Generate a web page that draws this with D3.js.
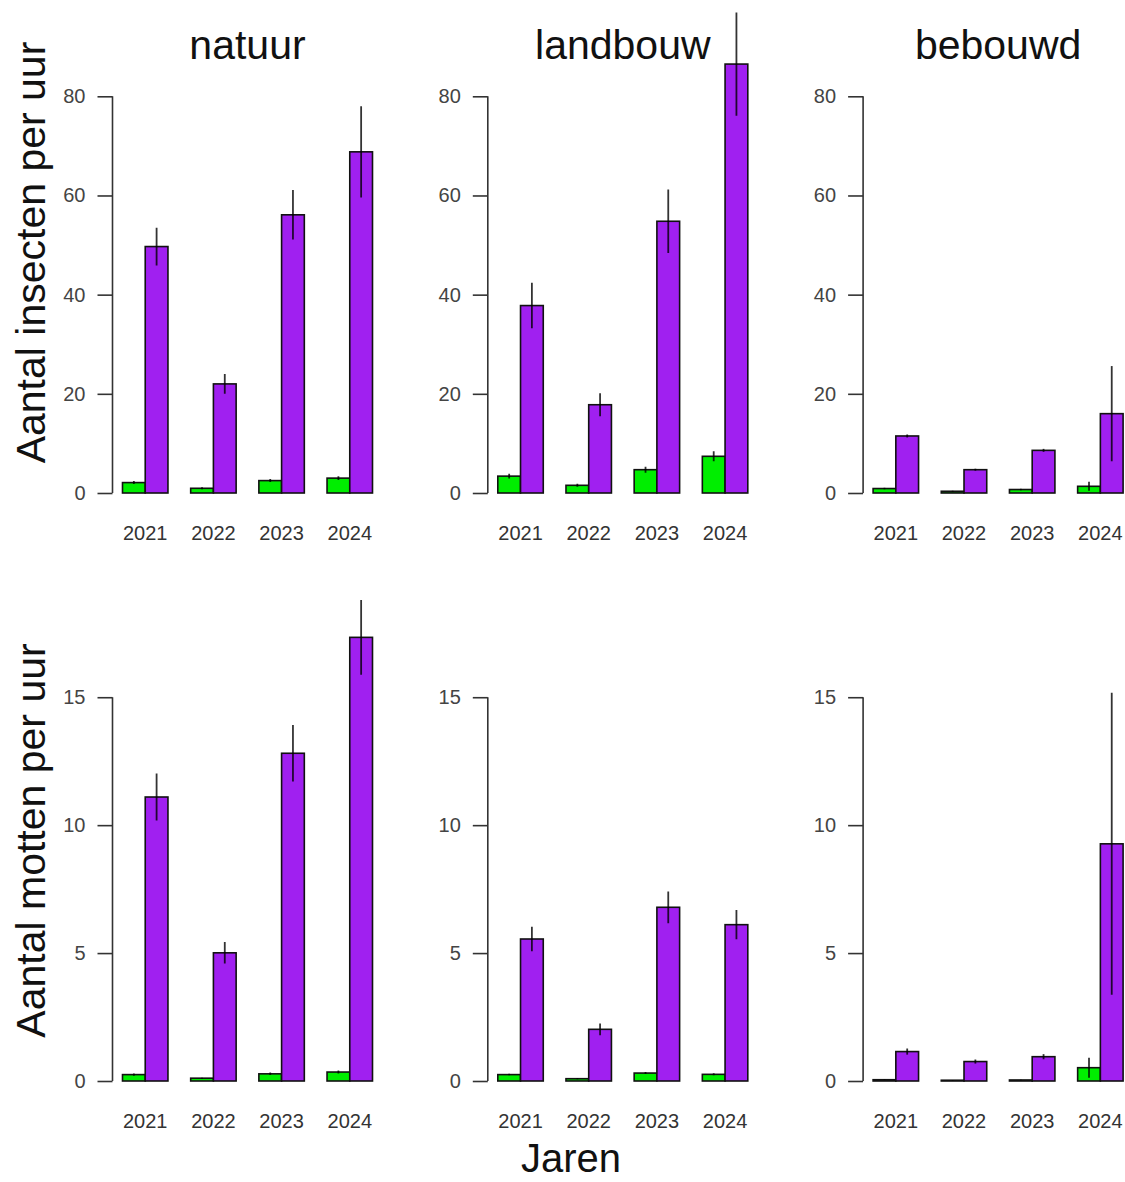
<!DOCTYPE html>
<html>
<head>
<meta charset="utf-8">
<script src="https://cdn.jsdelivr.net/npm/d3@7"></script>
<style>
  html, body { margin: 0; padding: 0; background: #fff; }
  svg { display: block; font-family: "Liberation Sans", Arial, sans-serif; }
</style>
</head>
<body>
<svg id="chart" width="1125" height="1182"></svg>
<script>
// Years on the x axis, habitat type per column
const years = ["2021", "2022", "2023", "2024"];
const habitats = ["natuur", "landbouw", "bebouwd"];

// Insects per hour: means and standard errors, one row per habitat
const insectenGroen   = [[2.1, 0.95, 2.5, 3.0], [3.4, 1.55, 4.7, 7.4], [0.9, 0.35, 0.7, 1.35]];
const insectenGroenSe = [[0.3, 0.2, 0.3, 0.4], [0.5, 0.3, 0.6, 1.0], [0.15, 0.1, 0.15, 0.9]];
const insectenPaars   = [[49.7, 22.0, 56.1, 68.8], [37.8, 17.8, 54.8, 86.5], [11.5, 4.7, 8.6, 16.0]];
const insectenPaarsSe = [[3.8, 2.0, 5.0, 9.2], [4.6, 2.3, 6.4, 10.4], [0.3, 0.2, 0.3, 9.6]];

// Moths per hour: means and standard errors, one row per habitat
const mottenGroen   = [[0.25, 0.11, 0.28, 0.35], [0.25, 0.09, 0.31, 0.26], [0.05, 0.03, 0.04, 0.52]];
const mottenGroenSe = [[0.04, 0.02, 0.05, 0.06], [0.03, 0.02, 0.04, 0.04], [0.01, 0.01, 0.01, 0.39]];
const mottenPaars   = [[11.1, 5.01, 12.81, 17.34], [5.55, 2.02, 6.79, 6.11], [1.15, 0.76, 0.95, 9.27]];
const mottenPaarsSe = [[0.92, 0.42, 1.1, 1.46], [0.48, 0.23, 0.62, 0.57], [0.12, 0.08, 0.1, 5.9]];

// Axis settings per row
const rowTicks = [[0, 20, 40, 60, 80], [0, 5, 10, 15]];
const rowMax = [97, 18.8];
const rowLabels = ["Aantal insecten per uur", "Aantal motten per uur"];
const xLabel = "Jaren";

const seriesKeys = ["groen", "paars"];
const seriesColors = { groen: "#00EE00", paars: "#A020F0" };

const rows = [
  { groen: insectenGroen, groenSe: insectenGroenSe, paars: insectenPaars, paarsSe: insectenPaarsSe },
  { groen: mottenGroen, groenSe: mottenGroenSe, paars: mottenPaars, paarsSe: mottenPaarsSe }
];

const svg = d3.select("#chart");

const colStep = 375.3;
const plotLeft0 = 112.5;
const plotWidth = 270;
const rowBottom = [493, 1081];
const rowTop = [12, 600];

rows.forEach((rowData, r) => {
  const y = d3.scaleLinear().domain([0, rowMax[r]]).range([rowBottom[r], rowTop[r]]);

  habitats.forEach((hab, c) => {
    const left = plotLeft0 + c * colStep;
    const g = svg.append("g");

    const x = d3.scaleBand().domain(years)
      .range([left, left + plotWidth])
      .paddingInner(1 / 3).paddingOuter(0.1467).align(0.5);
    const xs = d3.scaleBand().domain(seriesKeys).range([0, x.bandwidth()]);

    const clipId = `clip-${r}-${c}`;
    svg.append("clipPath").attr("id", clipId)
      .append("rect")
      .attr("x", left - 2).attr("y", rowTop[r])
      .attr("width", plotWidth + 4).attr("height", rowBottom[r] - rowTop[r] + 2);

    const records = [];
    years.forEach((yr, i) => {
      seriesKeys.forEach(k => {
        records.push({ year: yr, key: k, value: rowData[k][c][i], se: rowData[k + "Se"][c][i] });
      });
    });

    // bars
    g.selectAll("rect.bar").data(records).join("rect")
      .attr("class", "bar")
      .attr("x", d => x(d.year) + xs(d.key))
      .attr("width", xs.bandwidth())
      .attr("y", d => y(d.value))
      .attr("height", d => y(0) - y(d.value))
      .attr("fill", d => seriesColors[d.key])
      .attr("stroke", "#111")
      .attr("stroke-width", 1.6);

    // error bars
    g.append("g").attr("clip-path", `url(#${clipId})`)
      .selectAll("line").data(records).join("line")
      .attr("x1", d => x(d.year) + xs(d.key) + xs.bandwidth() / 2)
      .attr("x2", d => x(d.year) + xs(d.key) + xs.bandwidth() / 2)
      .attr("y1", d => y(Math.max(0, d.value - d.se)))
      .attr("y2", d => y(d.value + d.se))
      .attr("stroke", "#000")
      .attr("stroke-opacity", 0.8)
      .attr("stroke-width", 1.8);

    // y axis
    const ticks = rowTicks[r];
    const axis = d3.axisLeft(y).tickValues(ticks).tickSize(15).tickPadding(12)
      .tickFormat(d3.format("d"));
    const ag = g.append("g").attr("transform", `translate(${left},0)`).call(axis);
    ag.select(".domain").remove();
    ag.append("line")
      .attr("x1", 0).attr("x2", 0)
      .attr("y1", y(ticks[0])).attr("y2", y(ticks[ticks.length - 1]))
      .attr("stroke", "#333").attr("stroke-width", 1.6);
    ag.selectAll(".tick line").attr("stroke", "#333").attr("stroke-width", 1.6);
    ag.selectAll(".tick text")
      .attr("fill", "#444")
      .style("font-size", "20px")
      .style("font-family", "Liberation Sans, Arial, sans-serif");

    // year labels
    g.selectAll("text.year").data(years).join("text")
      .attr("class", "year")
      .attr("x", d => x(d) + x.bandwidth() / 2)
      .attr("y", rowBottom[r] + 47)
      .attr("text-anchor", "middle")
      .attr("fill", "#333")
      .style("font-size", "20px")
      .text(d => d);

    // habitat titles on top row
    if (r === 0) {
      g.append("text")
        .attr("x", left + plotWidth / 2)
        .attr("y", 59)
        .attr("text-anchor", "middle")
        .attr("fill", "#111")
        .style("font-size", "41px")
        .text(hab);
    }
  });

  // row label
  const cy = (rowTop[r] + rowBottom[r]) / 2;
  svg.append("text")
    .attr("transform", `translate(45,${cy}) rotate(-90)`)
    .attr("text-anchor", "middle")
    .attr("fill", "#111")
    .style("font-size", "41px")
    .text(rowLabels[r]);
});

svg.append("text")
  .attr("x", 571)
  .attr("y", 1172)
  .attr("text-anchor", "middle")
  .attr("fill", "#111")
  .style("font-size", "40px")
  .text(xLabel);
</script>
</body>
</html>
